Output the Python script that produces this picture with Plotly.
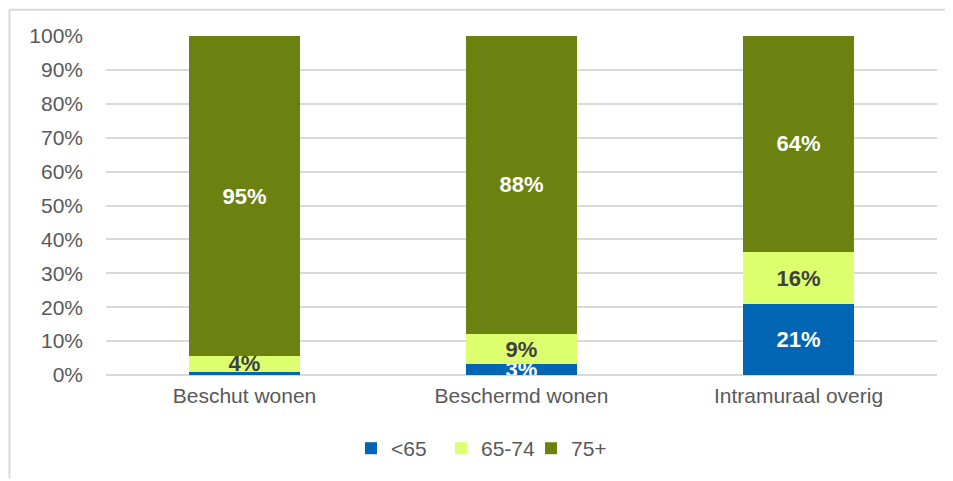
import plotly.graph_objects as go

categories = ["Beschut wonen", "Beschermd wonen", "Intramuraal overig"]
series_names = ["<65", "65-74", "75+"]
under65 = [0.9, 3.2, 20.8]
age65_74 = [4.7, 8.9, 15.6]
age75plus = [94.4, 87.9, 63.6]
labels_under65 = ["", "3%", "21%"]
labels_65_74 = ["4%", "9%", "16%"]
labels_75plus = ["95%", "88%", "64%"]
tick_vals = [0, 10, 20, 30, 40, 50, 60, 70, 80, 90, 100]
tick_text = [f"{v}%" for v in tick_vals]

colors = ["#0066b3", "#ddff6e", "#6b8210"]
text_colors = ["#ffffff", "#404040", "#ffffff"]
values = [under65, age65_74, age75plus]
labels = [labels_under65, labels_65_74, labels_75plus]

fig = go.Figure()
for name, vals, lab, col, tcol in zip(series_names, values, labels, colors, text_colors):
    fig.add_trace(go.Bar(
        name=name, x=categories, y=vals, text=lab,
        marker=dict(color=col, line=dict(width=0)),
        textposition="inside", insidetextanchor="middle",
        textfont=dict(family="Liberation Sans, Arial", size=22, color=tcol),
        texttemplate="<b>%{text}</b>",
        cliponaxis=True, hoverinfo="skip",
    ))

# page has an 8px body margin; figure is sized to sit inside the 953x481 window
OFF = 8
W, H = 953 - OFF, 481 - OFF
L, T = 106 - OFF, 36 - OFF
R = W - (937 - OFF)
B = H - (377 - OFF)
pw, ph = W - L - R, H - T - B

def px_x(p):
    return (p - L) / pw

def px_y(p):
    return (T + ph - p) / ph

fig.update_layout(
    barmode="stack", bargap=0.6,
    width=W, height=H,
    margin=dict(l=L, r=R, t=T, b=B, pad=0),
    paper_bgcolor="white", plot_bgcolor="white",
    font=dict(family="Liberation Sans, Arial", size=21, color="#595959"),
    uniformtext=dict(minsize=22, mode="show"),
    showlegend=True,
    legend=dict(orientation="h", x=px_x(486 - OFF), xanchor="center",
                y=-(451 - 377) / ph, yanchor="middle",
                font=dict(size=21, color="#595959"), traceorder="normal",
                itemwidth=30, tracegroupgap=0,
                entrywidth=45, entrywidthmode="pixels"),
    xaxis=dict(showgrid=False, showline=False, ticks="", tickfont=dict(size=21, color="#595959"),
               ticklabelstandoff=6),
    yaxis=dict(range=[0, 100], tickvals=tick_vals, ticktext=tick_text,
               showgrid=True, gridcolor="#d9d9d9", gridwidth=1.5,
               zeroline=True, zerolinecolor="#d9d9d9", zerolinewidth=1.5,
               showline=False, ticks="", ticklabelstandoff=22,
               tickfont=dict(size=21, color="#595959")),
    shapes=[
        dict(type="line", xref="paper", yref="paper",
             x0=px_x(1.5), x1=px_x(W), y0=px_y(1.5), y1=px_y(1.5),
             line=dict(color="#d9d9d9", width=2)),
        dict(type="line", xref="paper", yref="paper",
             x0=px_x(1.5), x1=px_x(1.5), y0=px_y(1.5), y1=px_y(H),
             line=dict(color="#d9d9d9", width=2)),
    ],
)

fig.write_html("out.html")
